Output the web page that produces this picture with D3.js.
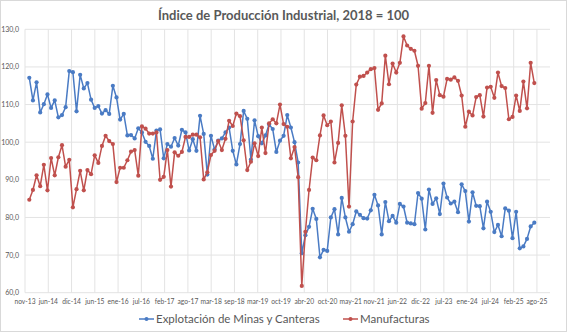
<!DOCTYPE html>
<html>
<head>
<meta charset="utf-8">
<script src="https://cdn.jsdelivr.net/npm/d3@7"></script>
<style>
  body { margin: 0; background: #fff; }
  text { font-family: Lato, "Open Sans", sans-serif; }
</style>
</head>
<body>
<svg width="567" height="332"></svg>
<script>
// monthly values, ene-14 .. ago-25
var mineria = [117.1, 111.1, 115.9, 107.9, 110.1, 112.7, 109.1, 111.1, 106.6, 107.2,
    109.3, 118.9, 118.6, 108.2, 117.9, 114.3, 115.7, 111.3, 109.1, 109.6,
    107.6, 108.5, 107.5, 115.0, 111.9, 106.0, 107.5, 101.8, 101.9, 101.0,
    103.7, 102.6, 100.1, 99.0, 95.6, 103.1, 103.4, 95.7, 99.5, 98.8,
    101.1, 99.1, 103.3, 102.6, 97.8, 100.8, 97.7, 107.0, 102.2, 91.4,
    101.7, 98.1, 100.4, 101.0, 102.6, 103.9, 97.7, 94.1, 99.5, 108.3,
    106.2, 95.4, 105.8, 101.6, 99.7, 101.8, 104.7, 103.5, 97.4, 100.4,
    101.7, 107.2, 103.9, 100.0, 94.6, 70.5, 75.3, 77.5, 82.3, 79.6,
    69.4, 71.4, 71.1, 80.0, 82.2, 75.5, 85.2, 80.0, 76.2, 78.2,
    81.6, 80.7, 79.8, 79.7, 81.9, 86.0, 83.2, 75.5, 84.1, 79.0,
    80.4, 78.6, 83.6, 82.9, 78.6, 78.4, 78.2, 86.5, 85.0, 76.8,
    87.4, 83.6, 85.1, 80.9, 89.0, 85.3, 83.7, 84.2, 81.4, 88.8,
    87.0, 78.9, 86.7, 83.1, 83.0, 77.1, 84.2, 81.5, 76.1, 78.0,
    75.0, 82.4, 81.8, 74.5, 81.5, 71.8, 72.3, 74.3, 77.6, 78.6];

var manufacturas = [84.7, 87.3, 91.2, 88.3, 94.0, 87.2, 95.8, 91.2, 96.0, 99.2,
    93.5, 95.3, 82.7, 87.5, 92.4, 87.2, 92.6, 91.5, 96.5, 94.5,
    99.0, 101.7, 100.3, 99.5, 89.4, 93.2, 93.2, 95.2, 97.5, 97.9,
    91.1, 104.2, 103.6, 102.3, 102.3, 102.6, 90.0, 90.8, 97.9, 88.2,
    97.3, 96.4, 97.4, 101.4, 101.4, 102.0, 102.0, 101.3, 90.1, 92.0,
    96.6, 97.7, 100.3, 97.9, 100.9, 105.7, 104.3, 107.6, 106.9, 100.5,
    92.6, 94.8, 99.7, 96.3, 103.9, 97.1, 105.0, 106.1, 105.0, 110.0,
    104.8, 104.1, 95.7, 98.7, 90.7, 61.8, 76.2, 87.3, 95.9, 95.2,
    101.8, 107.1, 104.5, 105.5, 94.6, 99.8, 109.8, 101.7, 82.9, 105.5,
    115.3, 117.4, 117.6, 118.5, 119.4, 119.7, 108.6, 110.3, 123.0, 115.4,
    120.9, 118.5, 121.1, 128.1, 125.7, 124.8, 124.3, 120.3, 108.9, 110.4,
    120.3, 107.8, 116.5, 112.5, 112.1, 116.8, 116.6, 117.2, 116.3, 112.4,
    104.1, 108.1, 107.1, 112.0, 112.5, 106.8, 114.5, 114.7, 111.8, 118.5,
    114.9, 114.4, 106.1, 106.7, 112.4, 108.3, 116.1, 109.0, 121.1, 115.7];

var mesesCorto = ["ene", "feb", "mar", "abr", "may", "jun", "jul", "ago", "sep", "oct", "nov", "dic"];
var meses = mineria.map(function(d, i) {
    return mesesCorto[i % 12] + "-" + (14 + Math.floor(i / 12));
});

var xLabels = ["nov-13", "jun-14", "dic-14", "jun-15", "ene-16", "jul-16", "feb-17", "ago-17",
    "mar-18", "sep-18", "mar-19", "oct-19", "abr-20", "oct-20", "may-21", "nov-21",
    "jun-22", "dic-22", "jul-23", "ene-24", "jul-24", "feb-25", "ago-25"];
var yTicks = [60, 70, 80, 90, 100, 110, 120, 130];

var series = [
    { name: "Explotación de Minas y Canteras", values: mineria, color: "#4a7bc4" },
    { name: "Manufacturas", values: manufacturas, color: "#c0504d" }
];

var svg = d3.select("svg");
var W = +svg.attr("width"), H = +svg.attr("height");

svg.append("rect")
    .attr("x", 0.5).attr("y", 0.5)
    .attr("width", W - 1).attr("height", H - 1)
    .attr("fill", "#fff").attr("stroke", "#d9d9d9");

var plot = { left: 25, right: 550, top: 29.3, bottom: 292.7 };

// month index -> pixel
var x = d3.scaleLinear()
    .domain([0, meses.length - 1])
    .range([29.3, 534.3]);

// gridlines of the date axis sit every ~6.4 months, first one mid nov-13
var xGrid = d3.scalePoint()
    .domain(xLabels)
    .range([x(-1.18), x(-1.18 + 6.405 * (xLabels.length - 1))]);

var y = d3.scaleLinear()
    .domain([60, 130])
    .range([plot.bottom, plot.top]);

var fmt = function(d) { return d3.format(".1f")(d).replace(".", ","); };

var g = svg.append("g");

// horizontal gridlines
g.append("g")
    .selectAll("line")
    .data(yTicks)
    .enter().append("line")
    .attr("x1", plot.left).attr("x2", plot.right)
    .attr("y1", function(d) { return y(d); })
    .attr("y2", function(d) { return y(d); })
    .attr("stroke", "#e3e3e3")
    .attr("stroke-width", 1);

// vertical gridlines
g.append("g")
    .selectAll("line")
    .data(xLabels)
    .enter().append("line")
    .attr("x1", function(d) { return xGrid(d); })
    .attr("x2", function(d) { return xGrid(d); })
    .attr("y1", plot.top).attr("y2", plot.bottom)
    .attr("stroke", "#e3e3e3")
    .attr("stroke-width", 1);

// y labels
g.append("g")
    .selectAll("text")
    .data(yTicks)
    .enter().append("text")
    .attr("x", 19)
    .attr("y", function(d) { return y(d); })
    .attr("dy", "0.35em")
    .attr("text-anchor", "end")
    .attr("font-size", 7)
    .attr("fill", "#595959")
    .text(fmt);

// x labels
g.append("g")
    .selectAll("text")
    .data(xLabels)
    .enter().append("text")
    .attr("x", function(d) { return xGrid(d); })
    .attr("y", 302)
    .attr("dy", "0.35em")
    .attr("text-anchor", "middle")
    .attr("font-size", 6.7)
    .attr("fill", "#595959")
    .text(function(d) { return d; });

var line = d3.line()
    .x(function(d, i) { return x(i); })
    .y(function(d) { return y(d); });

var s = g.selectAll(".series")
    .data(series)
    .enter().append("g")
    .attr("class", "series");

s.append("path")
    .attr("d", function(d) { return line(d.values); })
    .attr("fill", "none")
    .attr("stroke", function(d) { return d.color; })
    .attr("stroke-width", 1.5)
    .attr("stroke-linejoin", "round");

s.each(function(ser) {
    d3.select(this).selectAll("circle")
        .data(ser.values)
        .enter().append("circle")
        .attr("cx", function(d, i) { return x(i); })
        .attr("cy", function(d) { return y(d); })
        .attr("r", 2.1)
        .attr("fill", ser.color);
});

// title
svg.append("text")
    .attr("x", 283.5)
    .attr("y", 15)
    .attr("dy", "0.35em")
    .attr("text-anchor", "middle")
    .attr("font-size", 13)
    .attr("font-weight", "bold")
    .attr("fill", "#595959")
    .text("Índice de Producción Industrial, 2018 = 100");

// legend
var legX = [139, 343];
var leg = svg.append("g").selectAll("g")
    .data(series)
    .enter().append("g")
    .attr("transform", function(d, i) { return "translate(" + legX[i] + ",319)"; });

leg.append("line")
    .attr("x1", 0).attr("x2", 15)
    .attr("stroke", function(d) { return d.color; })
    .attr("stroke-width", 1.5);
leg.append("circle")
    .attr("cx", 7.5).attr("r", 2)
    .attr("fill", function(d) { return d.color; });
leg.append("text")
    .attr("x", 17)
    .attr("dy", "0.35em")
    .attr("font-size", 11.5)
    .attr("fill", "#595959")
    .text(function(d) { return d.name; });
</script>
</body>
</html>
